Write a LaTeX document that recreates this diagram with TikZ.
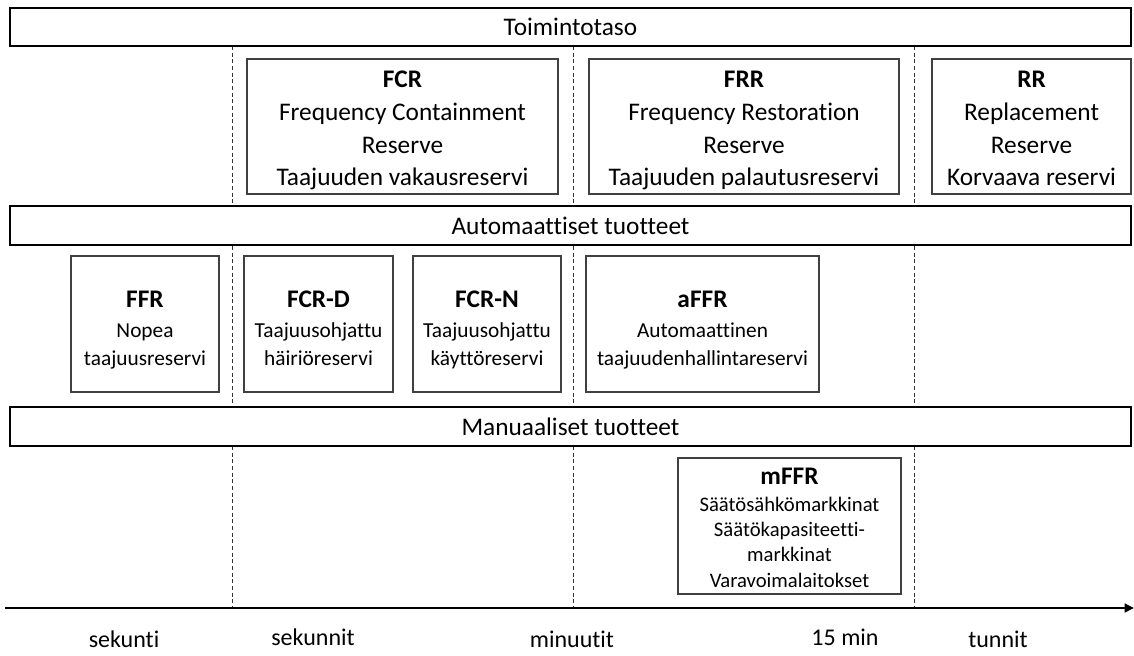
\documentclass[tikz,border=0pt]{standalone}
\usepackage{fontspec}
\setmainfont{Carlito}[Ligatures={NoCommon}]
\usetikzlibrary{arrows.meta}
% invisible struts that fix the height of the first line and depth of the last
\newcommand{\toprule}[1]{\rule{0pt}{#1}}
\newcommand{\botrule}[1]{\rule[-#1]{0pt}{#1}}
\begin{document}
\begin{tikzpicture}[x=0.75pt,y=-0.75pt,
  size/.style 2 args={minimum width=#1*0.75pt, minimum height=#2*0.75pt},
  band/.style={draw=black, line width=1.6pt, fill=white, inner sep=0pt,
    font=\fontsize{19}{23}\selectfont},
  bigbox/.style={draw=black!75, line width=0.9pt, fill=white, inner sep=0pt,
    align=center, font=\fontsize{19}{24.5}\selectfont},
  smallbox/.style={draw=black!75, line width=0.9pt, fill=white, inner sep=0pt,
    align=center, font=\fontsize{16}{21}\selectfont},
  divider/.style={draw=black!80, line width=0.6pt, dash pattern=on 3pt off 2pt},
  timeaxis/.style={draw=black, line width=1.7pt, -{Triangle[length=7pt,width=6.5pt]}},
  tick/.style={font=\fontsize{18}{20}\selectfont, inner sep=0pt},
]
\useasboundingbox (0,0) rectangle (1134,656);

% time-scale dividers
\foreach \x [count=\i] in {232,573,914}{
  \coordinate (d\i top) at (\x,46);
  \coordinate (d\i bot) at (\x,608);
  \draw[divider] (d\i top) -- (d\i bot);
}

% horizontal bands
\node[band, size={1121}{38}] (toiminto) at (570.5,27) {Toimintotaso};
\node[band, size={1121}{39}] (auto) at (570.5,225.5) {Automaattiset tuotteet};
\node[band, size={1121}{39}] (manual) at (570.5,426.5) {Manuaaliset tuotteet};

% operating level reserves
\node[bigbox, size={311}{135}] (fcr) at (402.5,126.5)
  {\toprule{20pt}{\bfseries FCR}\\Frequency Containment\\Reserve\\Taajuuden vakausreservi\botrule{4.5pt}};
\node[bigbox, size={310}{135}] (frr) at (744,126.5)
  {\toprule{20pt}{\bfseries FRR}\\Frequency Restoration\\Reserve\\Taajuuden palautusreservi\botrule{4.5pt}};
\node[bigbox, size={199}{135}] (rr) at (1031.5,126.5)
  {\toprule{20pt}{\bfseries RR}\\Replacement\\Reserve\\Korvaava reservi\botrule{4.5pt}};

% automatic products
\node[smallbox, size={148}{136}] (ffr) at (145,324)
  {\toprule{22.7pt}{\fontsize{19}{21}\selectfont\bfseries FFR}\\[2pt]Nopea\\taajuusreservi\botrule{4pt}};
\node[smallbox, size={149}{136}] (fcrd) at (318.5,324)
  {\toprule{22.7pt}{\fontsize{19}{21}\selectfont\bfseries FCR-D}\\[2pt]Taajuusohjattu\\häiriöreservi\botrule{4pt}};
\node[smallbox, size={148}{136}] (fcrn) at (487,324)
  {\toprule{22.7pt}{\fontsize{19}{21}\selectfont\bfseries FCR-N}\\[2pt]Taajuusohjattu\\käyttöreservi\botrule{4pt}};
\node[smallbox, size={233}{136}] (affr) at (702.5,324)
  {\toprule{22.7pt}{\fontsize{19}{21}\selectfont\bfseries aFFR}\\[2pt]Automaattinen\\taajuudenhallintareservi\botrule{4pt}};

% manual products
\node[smallbox, size={223}{136}, font=\fontsize{15.5}{19}\selectfont] (mffr) at (789.5,526)
  {\toprule{15pt}{\fontsize{19}{21}\selectfont\bfseries mFFR}\\[1pt]Säätösähkömarkkinat\\Säätökapasiteetti-\\markkinat\\Varavoimalaitokset\botrule{0pt}};

% time axis
\coordinate (axstart) at (5,608);
\coordinate (axend) at (1134,608);
\draw[timeaxis] (axstart) -- (axend);

% time scale labels
\node[tick] (t1) at (124,639) {sekunti};
\node[tick] (t2) at (313,637) {sekunnit};
\node[tick] (t3) at (572,639) {minuutit};
\node[tick] (t4) at (845,637) {15 min};
\node[tick] (t5) at (998,639) {tunnit};
\end{tikzpicture}
\end{document}
